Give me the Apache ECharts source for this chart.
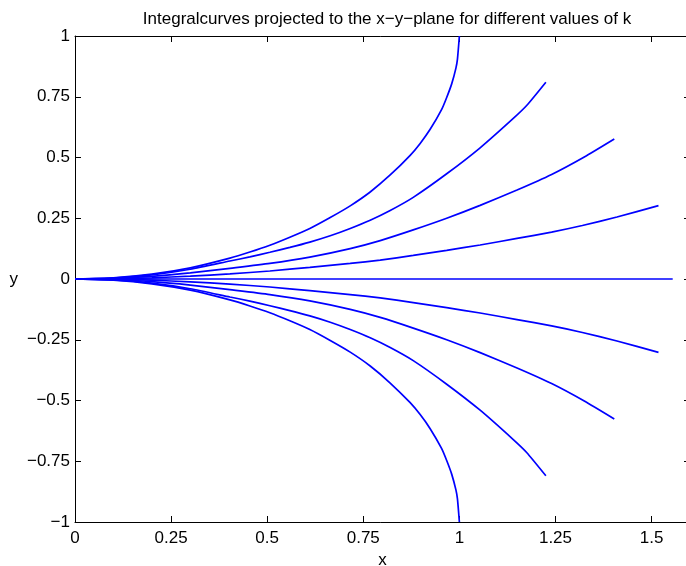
<!DOCTYPE html>
<html lang="en">
<head>
    <meta charset="utf-8" />
    <title>Integralcurves</title>
    <script src="https://cdn.jsdelivr.net/npm/echarts@6/dist/echarts.min.js"></script>
    <style>
        html, body { margin: 0; padding: 0; background: #fff; }
        #main { width: 686px; height: 566px; }
    </style>
</head>
<body>
    <div id="main"></div>
    <script>
// tick labels
var xTicks = [0, 0.25, 0.5, 0.75, 1, 1.25, 1.5];
var yTicks = [-1, -0.75, -0.5, -0.25, 0, 0.25, 0.5, 0.75, 1];
var xMax = 1.6;

// curves (upper half, then mirrored lower half)
var aX = [0, 0.1, 0.2, 0.3, 0.403, 0.455, 0.507, 0.559, 0.611, 0.664, 0.716, 0.768, 0.82, 0.872, 0.898, 0.924, 0.954, 0.967, 0.98, 0.991, 0.995, 1.0];
var aY = [0, 0.005, 0.020, 0.046, 0.086, 0.111, 0.139, 0.172, 0.208, 0.253, 0.301, 0.358, 0.428, 0.509, 0.558, 0.616, 0.698, 0.747, 0.803, 0.868, 0.905, 1.0];

var bX = [0, 0.1, 0.2, 0.3, 0.403, 0.455, 0.507, 0.559, 0.611, 0.664, 0.716, 0.768, 0.82, 0.88, 0.967, 1.054, 1.141, 1.175, 1.225];
var bY = [0, 0.004, 0.017, 0.040, 0.074, 0.091, 0.110, 0.130, 0.152, 0.178, 0.208, 0.242, 0.282, 0.336, 0.433, 0.540, 0.662, 0.714, 0.810];

var cX = [0, 0.1, 0.2, 0.3, 0.403, 0.507, 0.611, 0.716, 0.794, 0.88, 0.967, 1.054, 1.15, 1.24, 1.325, 1.403];
var cY = [0, 0.003, 0.011, 0.025, 0.044, 0.064, 0.090, 0.125, 0.158, 0.202, 0.250, 0.303, 0.366, 0.430, 0.502, 0.576];

var dX = [0, 0.1, 0.2, 0.3, 0.403, 0.507, 0.611, 0.716, 0.794, 0.88, 0.967, 1.054, 1.15, 1.24, 1.32, 1.41, 1.518];
var dY = [0, 0.001, 0.005, 0.012, 0.021, 0.033, 0.048, 0.064, 0.078, 0.097, 0.118, 0.140, 0.167, 0.193, 0.220, 0.255, 0.302];

var zeroX = [0, 1.555];
var zeroY = [0, 0];

function pairs(xs, ys, sign) {
    return xs.map(function (x, i) { return [x, sign * ys[i]]; });
}
function fmt(v) {
    return String(v).replace('-', '\u2212');
}

var curves = [
    pairs(aX, aY, 1), pairs(bX, bY, 1), pairs(cX, cY, 1), pairs(dX, dY, 1),
    pairs(zeroX, zeroY, 1),
    pairs(dX, dY, -1), pairs(cX, cY, -1), pairs(bX, bY, -1), pairs(aX, aY, -1)
];

var font = 'Liberation Sans, Arial, sans-serif';
var fs = 17;
var axisBase = {
    type: 'value',
    axisLine: { show: true, onZero: false, lineStyle: { color: '#000', width: 1 } },
    axisTick: { show: true, inside: true, length: 6, lineStyle: { color: '#000' } },
    splitLine: { show: false }
};

var myChart = echarts.init(document.getElementById('main'));
var option = {
  animation: false,
  backgroundColor: '#fff',
  title: {
    text: 'Integralcurves projected to the x\u2212y\u2212plane for different values of k',
    left: 382,
    textAlign: 'center',
    top: 6,
    textStyle: { fontFamily: font, fontSize: fs, fontWeight: 'normal', color: '#000' }
  },
  grid: { left: 75, right: -4, top: 36, bottom: 44, containLabel: false, outerBoundsMode: 'none' },
  xAxis: [
    Object.assign({}, axisBase, {
      position: 'bottom', min: xTicks[0], max: xMax, interval: xTicks[1] - xTicks[0],
      name: 'x', nameLocation: 'middle', nameGap: 25,
      nameTextStyle: { fontFamily: font, fontSize: fs, color: '#000' },
      axisLabel: { margin: 8, showMaxLabel: false, fontFamily: font, fontSize: fs, color: '#000', formatter: fmt }
    }),
    Object.assign({}, axisBase, {
      position: 'top', min: xTicks[0], max: xMax, interval: xTicks[1] - xTicks[0],
      axisLabel: { show: false }
    })
  ],
  yAxis: [
    Object.assign({}, axisBase, {
      position: 'left', min: yTicks[0], max: yTicks[yTicks.length - 1], interval: yTicks[1] - yTicks[0],
      name: 'y', nameLocation: 'middle', nameGap: 57, nameRotate: 0,
      nameTextStyle: { fontFamily: font, fontSize: fs, color: '#000' },
      axisLabel: { margin: 5, fontFamily: font, fontSize: fs, color: '#000', formatter: fmt }
    }),
    Object.assign({}, axisBase, {
      position: 'right', min: yTicks[0], max: yTicks[yTicks.length - 1], interval: yTicks[1] - yTicks[0],
      axisLabel: { show: false }
    })
  ],
  series: curves.map(function (c) {
    return {
      type: 'line',
      data: c,
      showSymbol: false,
      symbol: 'none',
      smooth: 0.2,
      clip: false,
      lineStyle: { color: '#0000ff', width: 1.7 },
      emphasis: { disabled: true }
    };
  })
};
myChart.setOption(option);
    </script>
</body>
</html>
